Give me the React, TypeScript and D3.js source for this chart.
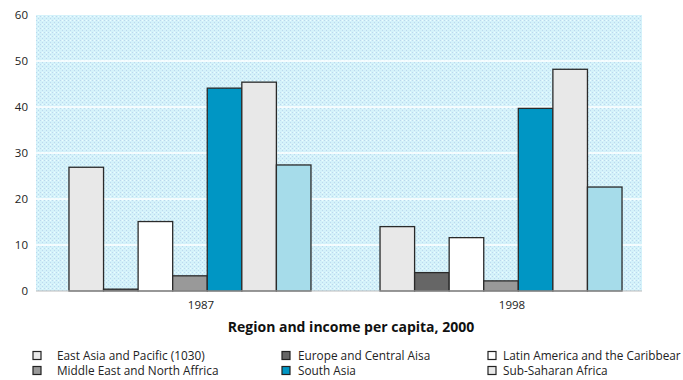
import React from "react";
import * as d3 from "d3";

const years = ["1987", "1998"];
const regions = [
  "East Asia and Pacific (1030)",
  "Europe and Central Aisa",
  "Latin America and the Caribbear",
  "Middle East and North Affrica",
  "South Asia",
  "Sub-Saharan Africa",
  "World",
];
const values1987 = [26.9, 0.4, 15.1, 3.3, 44.1, 45.4, 27.4];
const values1998 = [14.0, 4.0, 11.6, 2.2, 39.7, 48.2, 22.6];
const yTicks = [0, 10, 20, 30, 40, 50, 60];
const colors = ["#e8e8e8", "#666666", "#ffffff", "#999999", "#0096c4", "#e8e8e8", "#a6dcea"];
const title = "Region and income per capita, 2000";

const W = 683;
const H = 380;
const plotLeft = 36;
const plotRight = 642;
const plotTop = 15;
const plotBottom = 291;

export default function App() {
  const series = [values1987, values1998];
  const y = d3.scaleLinear().domain([0, 60]).range([plotBottom, plotTop]);
  const x0 = d3
    .scaleBand<string>()
    .domain(years)
    .range([36, 655])
    .paddingInner(0.222)
    .paddingOuter(0.106);
  const x1 = d3
    .scaleBand<string>()
    .domain(regions)
    .range([0, x0.bandwidth()]);
  const font = "'Open Sans', sans-serif";

  const legendCols = [33, 282, 488];
  const legendTextX = [57, 298, 503];
  const legendRowsY = [356, 371, 386];

  return (
    <svg
      width={W}
      height={H}
      style={{ position: "absolute", left: 0, top: 0, background: "#fff" }}
    >
      <defs>
        <pattern id="bgp" width="4" height="4" patternUnits="userSpaceOnUse">
          <rect width="4" height="4" fill="#d4f2fa" />
          <rect x="0" y="0" width="1" height="1" fill="#bcd8ee" />
          <rect x="2" y="2" width="1" height="1" fill="#bcd8ee" />
          <rect x="2" y="0" width="1" height="1" fill="#ecfcff" />
        </pattern>
      </defs>
      <rect
        x={plotLeft}
        y={plotTop}
        width={plotRight - plotLeft}
        height={plotBottom - plotTop}
        fill="url(#bgp)"
      />
      {yTicks
        .filter((t) => t > 0 && t < 60)
        .map((t) => (
          <line
            key={t}
            x1={plotLeft}
            x2={plotRight}
            y1={y(t)}
            y2={y(t)}
            stroke="#ffffff"
            strokeWidth={1.3}
          />
        ))}
      {yTicks.map((t) => (
        <text
          key={"yl" + t}
          x={28}
          y={y(t)}
          dy="0.35em"
          textAnchor="end"
          fontFamily={font}
          fontSize={11.5}
          fill="#222"
        >
          {t}
        </text>
      ))}
      {years.map((yr, gi) => (
        <g key={yr} transform={`translate(${x0(yr)},0)`}>
          {regions.map((r, i) => {
            const v = series[gi][i];
            return (
              <rect
                key={r}
                x={x1(r)}
                y={y(v)}
                width={x1.bandwidth()}
                height={y(0) - y(v)}
                fill={colors[i]}
                stroke="#2a2a2a"
                strokeWidth={1.3}
              />
            );
          })}
        </g>
      ))}
      <line
        x1={plotLeft}
        x2={plotRight}
        y1={plotBottom}
        y2={plotBottom}
        stroke="#bbbbbb"
        strokeWidth={1}
      />
      {years.map((yr) => (
        <text
          key={"xl" + yr}
          x={(x0(yr) as number) + x0.bandwidth() / 2 + 11}
          y={309}
          textAnchor="middle"
          fontFamily={font}
          fontSize={11.5}
          fill="#222"
        >
          {yr}
        </text>
      ))}
      <text
        x={351}
        y={332}
        textAnchor="middle"
        fontFamily={font}
        fontSize={14}
        fontWeight="bold"
        fill="#111"
      >
        {title}
      </text>
      {regions.map((r, i) => {
        const col = i % 3;
        const row = Math.floor(i / 3);
        const cy = legendRowsY[row];
        return (
          <g key={"lg" + r}>
            <rect
              x={legendCols[col]}
              y={cy - 4.5}
              width={8}
              height={8}
              fill={colors[i]}
              stroke="#222"
              strokeWidth={1.2}
            />
            <text
              x={legendTextX[col]}
              y={cy}
              dy="0.35em"
              fontFamily={font}
              fontSize={11.8}
              fill="#222"
            >
              {r}
            </text>
          </g>
        );
      })}
    </svg>
  );
}
